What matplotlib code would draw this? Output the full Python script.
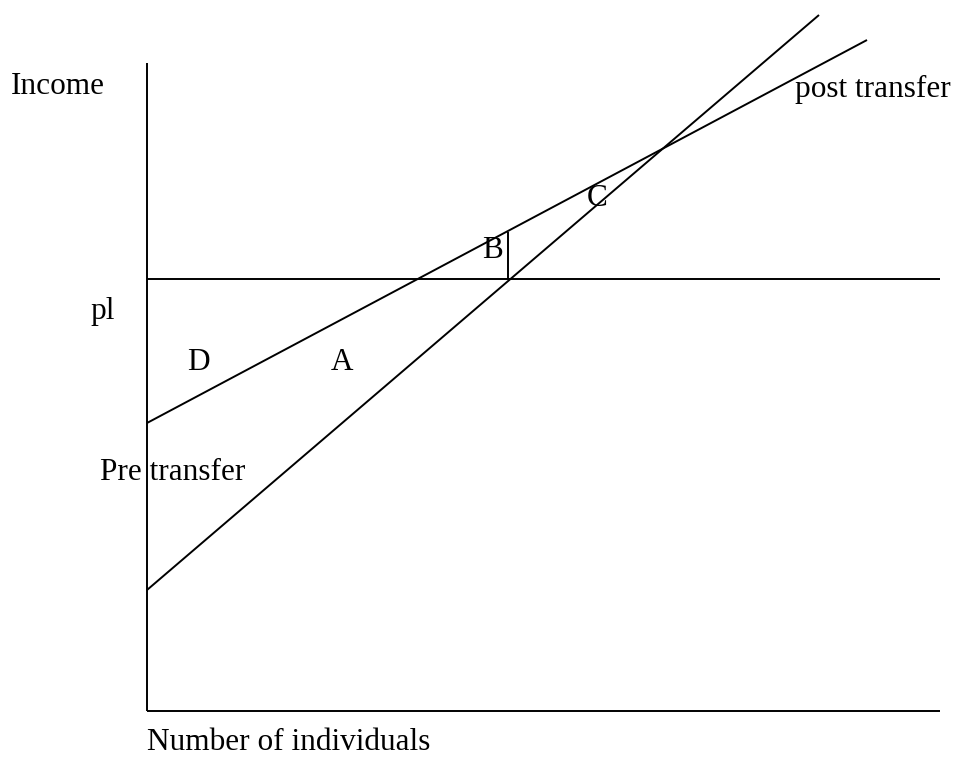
import matplotlib
matplotlib.use("Agg")
import matplotlib.pyplot as plt

# --- DATA (origin at the corner of the axes) ---
AXIS_X_END = 793
AXIS_Y_END = 648
POVERTY_LINE = 432

PRE_X = [0, 672]
PRE_Y = [121, 696]
POST_X = [0, 720]
POST_Y = [288, 671]
GAP_X = [361, 361]
GAP_Y = [432, 479]

LABELS = [
    ("Income", -136, 624, "left"),
    ("post transfer", 648, 622, "left"),
    ("C", 450, 513, "center"),
    ("B", 346, 460, "center"),
    ("pl", -44, 400, "center"),
    ("D", 51, 349, "center"),
    ("A", 195, 349, "center"),
    ("Pre transfer", -47, 239, "left"),
    ("Number of individuals", 0, -32, "left"),
]


def main() -> None:
    fig = plt.figure(figsize=(9.56, 7.57), dpi=100)
    ax = fig.add_axes([0, 0, 1, 1])
    ax.set_xlim(-147, 809)
    ax.set_ylim(-46, 711)
    ax.axis("off")

    kw = dict(color="black", linewidth=1.4, solid_capstyle="butt")
    ax.plot([0, 0], [0, AXIS_Y_END], **kw)
    ax.plot([0, AXIS_X_END], [0, 0], **kw)
    ax.plot([0, AXIS_X_END], [POVERTY_LINE, POVERTY_LINE], **kw)
    ax.plot(PRE_X, PRE_Y, **kw)
    ax.plot(POST_X, POST_Y, **kw)
    ax.plot(GAP_X, GAP_Y, **kw)

    for text, x, y, ha in LABELS:
        ax.text(x, y, text, ha=ha, va="center", fontsize=22.5,
                family=["Liberation Serif", "DejaVu Serif"])

    fig.savefig("out.png", dpi=100, facecolor="white")


if __name__ == "__main__":
    main()
